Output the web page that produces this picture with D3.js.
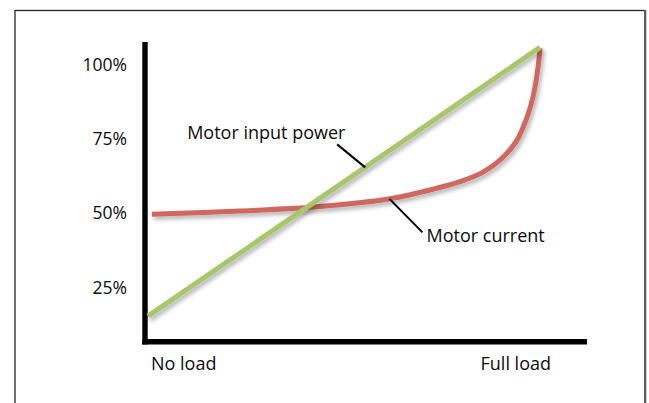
<!DOCTYPE html>
<html>
<head>
<meta charset="utf-8">
<script src="https://cdn.jsdelivr.net/npm/d3@7"></script>
<style>
  html, body { margin: 0; padding: 0; background: #fff; }
  svg { display: block; font-family: "Open Sans", "DejaVu Sans", sans-serif; }
  .lbl { font-size: 18px; fill: #0c0c0c; }
</style>
</head>
<body>
<div id="chart"></div>
<script>
// load in % of full load, values in % of full-load value
const loadCurrent = [1, 23.5, 43.9, 61.7, 73.7, 79.6, 85.5, 90.6, 94.1, 96.7, 98.2, 99.5, 100];
const current     = [49.4, 50.5, 52.0, 54.6, 58.2, 60.4, 63.6, 68.6, 74.3, 82.1, 88.8, 98.9, 105.3];
const loadPower   = [0, 100];
const power       = [15.1, 105.6];
const yTicks      = [25, 50, 75, 100];
const xLabels     = ["No load", "Full load"];
const annotations = [
  { label: "Motor input power", load: 55.4, value: 65.2 },
  { label: "Motor current", load: 61.6, value: 54.6 }
];

const width = 649, height = 403;
const AXIS_W = 5.4;

const svg = d3.select("#chart")
  .append("svg")
  .attr("width", width)
  .attr("height", height);

const defs = svg.append("defs");
defs.append("filter")
  .attr("id", "shadow")
  .attr("x", "-10%").attr("y", "-10%")
  .attr("width", "130%").attr("height", "130%")
  .append("feDropShadow")
  .attr("dx", 2).attr("dy", 3)
  .attr("stdDeviation", 2)
  .attr("flood-color", "#000")
  .attr("flood-opacity", 0.3);

// frame
svg.append("rect")
  .attr("x", 15).attr("y", 10.5)
  .attr("width", 630).attr("height", 420)
  .style("fill", "none")
  .style("stroke", "#222")
  .style("stroke-width", 1.3);
svg.append("line")
  .attr("x1", 645.3).attr("x2", 645.3)
  .attr("y1", 10).attr("y2", height)
  .style("stroke", "#5a5a5a")
  .style("stroke-width", 2);

// scales
const x = d3.scaleLinear().domain([0, 100]).range([148, 540]);
const y = d3.scaleLinear().domain([0, 100]).range([361, 64]);

// thick axis lines
const axisX = x(0) - AXIS_W / 2 - 0.3;
const axisY = 341.8;
svg.append("line")
  .attr("x1", axisX).attr("x2", axisX)
  .attr("y1", 42).attr("y2", axisY + AXIS_W / 2)
  .style("stroke", "#000").style("stroke-width", AXIS_W);
svg.append("line")
  .attr("x1", axisX - AXIS_W / 2).attr("x2", x(112))
  .attr("y1", axisY).attr("y2", axisY)
  .style("stroke", "#000").style("stroke-width", AXIS_W);

// y tick labels
const yAxis = svg.append("g")
  .attr("transform", `translate(${axisX}, 0)`)
  .call(d3.axisLeft(y)
    .tickValues(yTicks)
    .tickFormat(d => d + "%")
    .tickSize(0)
    .tickPadding(18));
yAxis.select("path.domain").remove();
yAxis.attr("font-family", null).attr("font-size", null);
yAxis.selectAll("text")
  .attr("class", "lbl")
  .style("font-size", "17.5px")
  .attr("dy", "0.36em");

// x labels
svg.selectAll("text.xl")
  .data(xLabels)
  .enter()
  .append("text")
  .attr("class", "lbl xl")
  .attr("x", (d, i) => i === 0 ? x(0) + 3 : x(100) + 11)
  .attr("y", 370)
  .attr("text-anchor", (d, i) => i === 0 ? "start" : "end")
  .text(d => d);

// series
const line = d3.line()
  .x(d => x(d[0]))
  .y(d => y(d[1]));

svg.append("path")
  .datum(d3.zip(loadCurrent, current))
  .attr("d", line.curve(d3.curveCatmullRom.alpha(0.5)))
  .style("fill", "none")
  .style("stroke", "#d0675f")
  .style("stroke-width", 5)
  .attr("filter", "url(#shadow)");

svg.append("path")
  .datum(d3.zip(loadPower, power))
  .attr("d", line.curve(d3.curveLinear))
  .style("fill", "none")
  .style("stroke", "#a8c66b")
  .style("stroke-width", 5)
  .attr("filter", "url(#shadow)");

// annotations with leader lines
const offsets = [
  { lx: -28, ly: -23, tx: -178, ty: -28 },
  { lx: 33, ly: 33.5, tx: 37, ty: 43.5 }
];
const ann = svg.selectAll("g.ann")
  .data(annotations)
  .enter()
  .append("g")
  .attr("class", "ann")
  .attr("transform", d => `translate(${x(d.load)}, ${y(d.value)})`);

ann.append("line")
  .attr("x1", 0).attr("y1", 0)
  .attr("x2", (d, i) => offsets[i].lx)
  .attr("y2", (d, i) => offsets[i].ly)
  .style("stroke", "#000")
  .style("stroke-width", 2);

ann.append("text")
  .attr("class", "lbl")
  .attr("x", (d, i) => offsets[i].tx)
  .attr("y", (d, i) => offsets[i].ty)
  .text(d => d.label);
</script>
</body>
</html>
